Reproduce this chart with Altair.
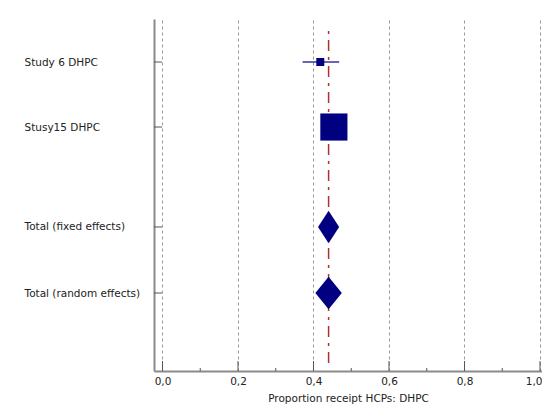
import altair as alt
import pandas as pd

# ---- data ----
labels = ["Study 6 DHPC", "Stusy15 DHPC", "Total (fixed effects)", "Total (random effects)"]
rows = [1.0, 2.0, 3.538, 4.554]
estimates = [0.418, 0.454, 0.440, 0.440]
lower = [0.371, 0.432, 0.412, 0.405]
upper = [0.468, 0.477, 0.468, 0.475]
weights = [8, 92]          # study weights (%)
pooled = 0.440             # pooled estimate (reference line)
major_ticks = [0.0, 0.2, 0.4, 0.6, 0.8, 1.0]
minor_ticks = [0.1, 0.3, 0.5, 0.7, 0.9]
x_title = "Proportion receipt HCPs: DHPC"

W, H = 388, 352
FONT = "DejaVu Sans"
FS = 10.5
NAVY = "#000080"

xs = alt.Scale(domain=[-0.0225, 1.0053], nice=False, zero=False)
ys = alt.Scale(domain=[0.338, 5.754], nice=False, zero=False, reverse=True)

xaxis = alt.Axis(values=major_ticks, grid=True, gridDash=[3, 3], gridColor="#9a9a9a",
                 gridWidth=1, ticks=False, tickSize=0, domainColor="#8a8a8a", domainWidth=2,
                 labelExpr="replace(format(datum.value, '.1f'), '.', ',')",
                 labelFont=FONT, labelFontSize=FS, labelColor="#222", labelPadding=5,
                 labelFlush=False, labelOverlap=False,
                 labelAlign={"condition": {"test": "datum.value >= 1", "value": "right"},
                             "value": "center"},
                 labelOffset={"condition": {"test": "datum.value >= 1", "value": 2},
                              "value": 0},
                 title=x_title, titleFont=FONT, titleFontSize=FS, titleFontWeight="normal",
                 titleColor="#222", titlePadding=7)

expr = "''"
for r, lab in reversed(list(zip(rows, labels))):
    expr = f"datum.value == {r} ? '{lab}' : ({expr})"
yaxis = alt.Axis(values=rows, grid=False, ticks=False, tickSize=0, domainColor="#8a8a8a",
                 domainWidth=2, labelExpr=expr, labelAlign="left", labelPadding=130,
                 labelFont=FONT, labelFontSize=FS, labelColor="#222", title=None)

study = pd.DataFrame({"label": labels[:2], "row": rows[:2], "est": estimates[:2],
                      "lo": lower[:2], "hi": upper[:2], "w": weights})

dia_rows = []
for i in (2, 3):
    r = rows[i]
    dia_rows += [
        {"label": labels[i], "dx": lower[i], "dy": r, "dy2": r},
        {"label": labels[i], "dx": estimates[i], "dy": r - 0.25, "dy2": r + 0.25},
        {"label": labels[i], "dx": upper[i], "dy": r, "dy2": r},
    ]
dia = pd.DataFrame(dia_rows)

ytick_df = pd.DataFrame({"row": rows})
major_df = pd.DataFrame({"t": major_ticks})
minor_df = pd.DataFrame({"t": minor_ticks})
pool_df = pd.DataFrame({"p": [pooled]})

ytick = alt.Chart(ytick_df).mark_rule(color="#555", strokeWidth=1).encode(
    x=alt.value(0), x2=alt.value(8),
    y=alt.Y("row:Q", scale=ys, axis=yaxis))

xmajor = alt.Chart(major_df).mark_rule(color="#555", strokeWidth=1).encode(
    x=alt.X("t:Q", scale=xs, axis=xaxis), y=alt.value(H - 10), y2=alt.value(H))
xminor = alt.Chart(minor_df).mark_rule(color="#555", strokeWidth=1).encode(
    x=alt.X("t:Q", scale=xs, axis=xaxis), y=alt.value(H - 3), y2=alt.value(H))

pool = alt.Chart(pool_df).mark_rule(color="#a8332f", strokeWidth=1.5,
                                    strokeDash=[3, 6, 11, 6]).encode(
    x=alt.X("p:Q", scale=xs, axis=xaxis), y=alt.value(12), y2=alt.value(H - 8))

ci = alt.Chart(study).mark_rule(color=NAVY, strokeWidth=1.5, opacity=0.8).encode(
    x=alt.X("lo:Q", scale=xs, axis=xaxis), x2="hi:Q",
    y=alt.Y("row:Q", scale=ys, axis=yaxis))

sq = alt.Chart(study).mark_square(color=NAVY, opacity=1, filled=True).encode(
    x=alt.X("est:Q", scale=xs, axis=xaxis),
    y=alt.Y("row:Q", scale=ys, axis=yaxis),
    size=alt.Size("w:Q", scale=alt.Scale(domain=[0, 100], range=[0, 800]), legend=None))

diamond = alt.Chart(dia).mark_area(color=NAVY, orient="vertical", opacity=1).encode(
    x=alt.X("dx:Q", scale=xs, axis=xaxis),
    y=alt.Y("dy:Q", scale=ys, axis=yaxis), y2="dy2:Q",
    detail="label:N")

chart = alt.layer(ytick, xmajor, xminor, pool, ci, sq, diamond).properties(
    width=W, height=H,
    autosize=alt.AutoSizeParams(type="none"),
    padding={"left": 146, "top": 11, "right": 0, "bottom": 38},
    background="white",
).configure_view(strokeWidth=0)

chart.save("out.html", embed_options={"renderer": "svg", "actions": False})
